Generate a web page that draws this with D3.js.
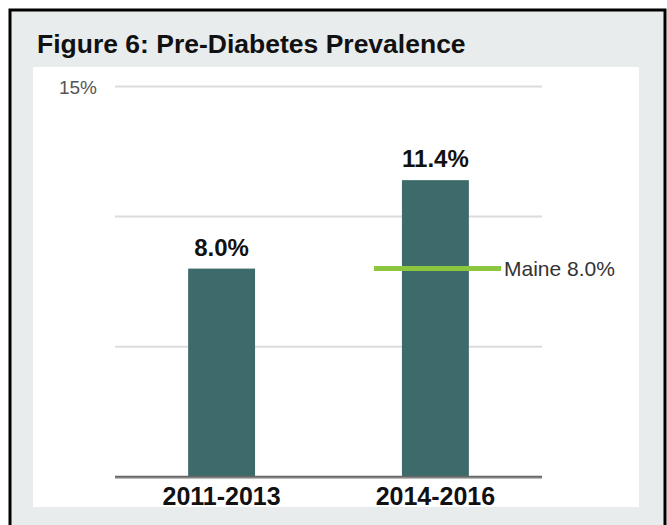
<!DOCTYPE html>
<html><head><meta charset="utf-8">
<script src="https://cdn.jsdelivr.net/npm/d3@7"></script>
<style>html,body{margin:0;padding:0;background:#fff;}svg{display:block;}</style>
</head><body>
<script>
const title = "Figure 6: Pre-Diabetes Prevalence";
const categories = ["2011-2013", "2014-2016"];
const values = [8.0, 11.4];
const maineValue = 8.0;
const maineLabel = "Maine";
const yTicks = [0, 5, 10, 15];
const yTickLabels = ["", "", "", "15%"];

const W = 667, H = 525;
const svg = d3.select("body").append("svg").attr("width", W).attr("height", H);
const font = "'Liberation Sans', Arial, Helvetica, sans-serif";

svg.append("rect").attr("x", 10).attr("y", 10).attr("width", 655).attr("height", 530)
  .attr("fill", "#e9eced").attr("stroke", "#000").attr("stroke-width", 3);
svg.append("rect").attr("x", 33).attr("y", 67).attr("width", 606).attr("height", 440).attr("fill", "#fff");

svg.append("text").attr("x", 37).attr("y", 53).text(title)
  .attr("font-family", font).attr("font-weight", "bold").attr("font-size", 26.5).attr("fill", "#111");

const x = d3.scaleBand().domain(categories).range([115, 542]).paddingInner(0.687).paddingOuter(0.342);
const y = d3.scaleLinear().domain([0, 15]).range([476.7, 86.5]);

// gridlines
svg.append("g").selectAll("line").data(yTicks.filter(d => d > 0)).join("line")
  .attr("x1", 115).attr("x2", 542).attr("y1", d => y(d)).attr("y2", d => y(d))
  .attr("stroke", "#dcdcdc").attr("stroke-width", 2);
svg.append("g").selectAll("text").data(yTicks.map((d, i) => ({v: d, t: yTickLabels[i]})).filter(d => d.t)).join("text")
  .attr("x", 97).attr("y", d => y(d.v) + 7).attr("text-anchor", "end").text(d => d.t)
  .attr("font-family", font).attr("font-size", 19).attr("fill", "#555");

// bars
svg.append("g").selectAll("rect").data(values).join("rect")
  .attr("x", (d, i) => x(categories[i])).attr("width", x.bandwidth())
  .attr("y", d => y(d)).attr("height", d => y(0) - y(d)).attr("fill", "#3d6b6b");

// baseline
svg.append("line").attr("x1", 115).attr("x2", 542).attr("y1", y(0) + 1.5).attr("y2", y(0) + 1.5)
  .attr("stroke", "#bbb").attr("stroke-width", 1.5);
svg.append("line").attr("x1", 115).attr("x2", 542).attr("y1", y(0)).attr("y2", y(0))
  .attr("stroke", "#666").attr("stroke-width", 2);

// value labels
svg.append("g").selectAll("text").data(values).join("text")
  .attr("x", (d, i) => x(categories[i]) + x.bandwidth() / 2).attr("y", d => y(d) - 13)
  .attr("text-anchor", "middle").text(d => d.toFixed(1) + "%")
  .attr("font-family", font).attr("font-weight", "bold").attr("font-size", 24).attr("fill", "#111");

// category labels
svg.append("g").selectAll("text").data(categories).join("text")
  .attr("x", d => x(d) + x.bandwidth() / 2).attr("y", 505)
  .attr("text-anchor", "middle").text(d => d)
  .attr("font-family", font).attr("font-weight", "bold").attr("font-size", 25).attr("fill", "#111");

// Maine reference line
const bx = x(categories[1]);
svg.append("line").attr("x1", bx - 28).attr("x2", 501).attr("y1", y(maineValue)).attr("y2", y(maineValue))
  .attr("stroke", "#8cc63f").attr("stroke-width", 5);
svg.append("text").attr("x", 504).attr("y", y(maineValue) + 7)
  .text(maineLabel + " " + maineValue.toFixed(1) + "%")
  .attr("font-family", font).attr("font-size", 21).attr("fill", "#333");
</script>
</body></html>
